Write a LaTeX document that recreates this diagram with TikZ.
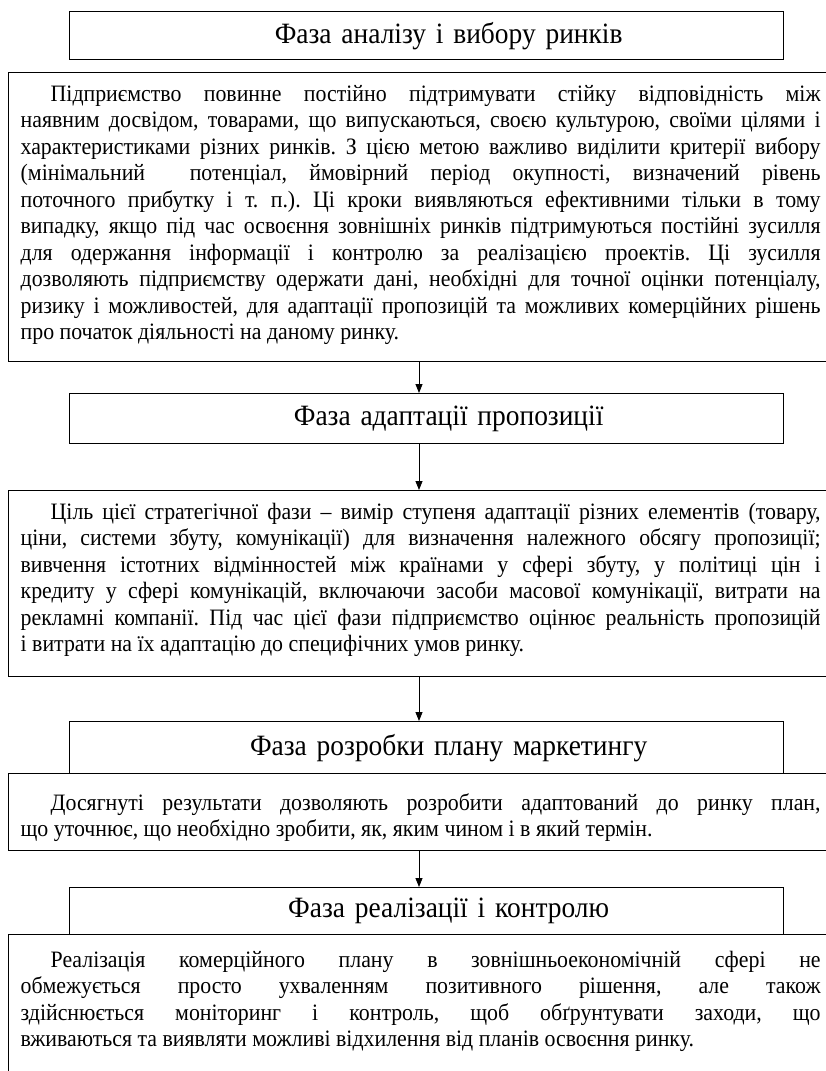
\documentclass[tikz,border=0pt]{standalone}
\usepackage{fontspec}
\setmainfont{Liberation Serif}[FakeStretch=0.93]
\usepackage{tikz}
\usetikzlibrary{arrows.meta}

\frenchspacing
\newcommand{\bodytext}[3][0pt]{\parbox[t][#2][t]{800pt}{\vspace*{#1}\strut\hspace*{30pt}#3}}

\tikzset{
	phase/.style = {draw, line width=1.3pt, anchor=north west, minimum width=714pt, minimum height=48pt,
		inner sep=0pt, text width=714pt, align=center, font=\fontsize{29.5}{34}\selectfont},
	body/.style = {draw, line width=1.3pt, anchor=north west, inner xsep=12pt, inner ysep=10pt,
		font=\fontsize{23.5}{26.5}\selectfont},
}

\begin{document}
\begin{tikzpicture}[x=1pt, y=-1pt]
	\useasboundingbox (0,0) rectangle (826,1071);
	\coordinate (ax) at (419,0);

	\node [phase] (analiz) at (69,11) {\hspace*{44pt}Фаза аналізу і вибору ринків};
	\node [body] (analiztxt) at (8,72) {\bodytext{269pt}{Підприємство повинне постійно підтримувати стійку відповідність між\linebreak
		наявним досвідом, товарами, що випускаються, своєю культурою, своїми цілями і\linebreak
		характеристиками різних ринків. З цією метою важливо виділити критерії вибору\linebreak
		(мінімальний\ \ потенціал, ймовірний період окупності, визначений рівень\linebreak
		поточного прибутку і т.~п.). Ці кроки виявляються ефективними тільки в тому\linebreak
		випадку, якщо під час освоєння зовнішніх ринків підтримуються постійні зусилля\linebreak
		для одержання інформації і контролю за реалізацією проектів. Ці зусилля\linebreak
		дозволяють підприємству одержати дані, необхідні для точної оцінки потенціалу,\linebreak
		ризику і можливостей, для адаптації пропозицій та можливих комерційних рішень\linebreak
		про початок діяльності на даному ринку.}};

	\node [phase, minimum height=50pt] (adapt) at (69,393) {\hspace*{44pt}Фаза адаптації пропозиції};
	\node [body] (adapttxt) at (8,490) {\bodytext{166pt}{Ціль цієї стратегічної фази – вимір ступеня адаптації різних елементів (товару,\linebreak
		ціни, системи збуту, комунікації) для визначення належного обсягу пропозиції;\linebreak
		вивчення істотних відмінностей між країнами у сфері збуту, у політиці цін і\linebreak
		кредиту у сфері комунікацій, включаючи засоби масової комунікації, витрати на\linebreak
		рекламні компанії. Під час цієї фази підприємство оцінює реальність пропозицій\linebreak
		і витрати на їх адаптацію до специфічних умов ринку.}};

	\node [phase, minimum height=52pt] (plan) at (69,721) {\hspace*{44pt}Фаза розробки плану маркетингу};
	\node [body] (plantxt) at (8,773) {\bodytext[8pt]{57pt}{Досягнуті результати дозволяють розробити адаптований до ринку план,\linebreak
		що уточнює, що необхідно зробити, як, яким чином і в який термін.}};

	\node [phase, minimum height=47pt] (kontrol) at (69,887) {\hspace*{44pt}Фаза реалізації і контролю};
	\node [body] (kontroltxt) at (8,934) {\bodytext[4pt]{136pt}{Реалізація комерційного плану в зовнішньоекономічній сфері не\linebreak
		обмежується просто ухваленням позитивного рішення, але також\linebreak
		здійснюється моніторинг і контроль, щоб обґрунтувати заходи, що\linebreak
		вживаються та виявляти можливі відхилення від планів освоєння ринку.}};

	\begin{scope}[-{Triangle[length=9pt, width=7pt]}, line width=0.8pt]
		\draw (analiztxt.south -| ax) -- (adapt.north -| ax);
		\draw (adapt.south -| ax) -- (adapttxt.north -| ax);
		\draw (adapttxt.south -| ax) -- (plan.north -| ax);
		\draw (plantxt.south -| ax) -- (kontrol.north -| ax);
	\end{scope}
\end{tikzpicture}
\end{document}
